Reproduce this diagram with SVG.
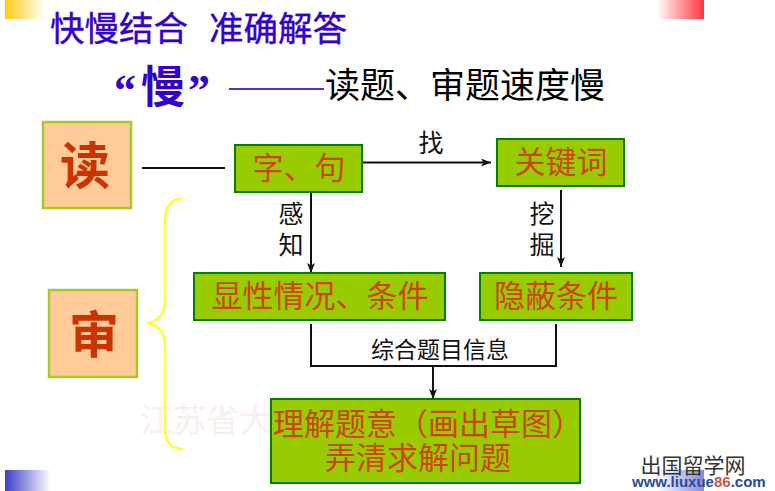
<svg xmlns="http://www.w3.org/2000/svg" width="775" height="491" viewBox="0 0 775 491">
<style>
text{font-family:"Liberation Serif","Noto Sans CJK SC",serif}
.c{text-anchor:middle}
.box{fill:#99cc00;stroke:#008000;stroke-width:2}
.bt{fill:#cc4400;font-size:31px;text-anchor:middle}
.sq{fill:#ffcc99;stroke:#a8c82c;stroke-width:2.5}
.sqt{fill:#cc3300;font-size:50px;font-weight:bold;text-anchor:middle}
.lab{fill:#111;font-size:25px;text-anchor:middle}
.ln{fill:none;stroke:#111;stroke-width:2}
.ttl{font-size:34.500px;fill:#3300cc;stroke:#3300cc;stroke-width:.4}
</style>
<defs>
<linearGradient id="gy"><stop offset="0" stop-color="#ffcc11"/><stop offset="1" stop-color="#ffffff"/></linearGradient>
<linearGradient id="gr"><stop offset="0" stop-color="#ffffff"/><stop offset="1" stop-color="#ff3344"/></linearGradient>
<linearGradient id="gb"><stop offset="0" stop-color="#3f3fc8"/><stop offset="1" stop-color="#ffffff"/></linearGradient>
<linearGradient id="gb2"><stop offset="0" stop-color="#ffffff"/><stop offset="1" stop-color="#8888dd"/></linearGradient>
<marker id="arr" viewBox="0 0 10 8" refX="10" refY="4" markerWidth="10" markerHeight="8" markerUnits="userSpaceOnUse" orient="auto"><path d="M0 0L10 4L0 8L2.5 4Z" fill="#111"/></marker>
</defs>
<rect width="775" height="491" fill="#fff"/>
<g id="decor">
<rect x="5" y="0" width="40" height="19" fill="url(#gy)"/>
<rect x="657" y="0" width="47" height="19" fill="url(#gr)"/>
<rect x="5" y="470" width="46" height="21" fill="url(#gb)"/>
<rect x="657" y="470" width="47" height="21" fill="url(#gb2)"/>
</g>
<text x="140" y="432" font-size="33" fill="#fdeeee">江苏省大</text>
<g id="title">
<text class="ttl" x="50" y="41">快慢结合</text>
<text class="ttl" x="209" y="41">准确解答</text>
</g>
<g id="subtitle">
<text x="114" y="105" font-size="44" font-weight="bold" fill="#3300cc">“</text>
<text x="141" y="103" font-size="44" font-weight="bold" fill="#3300cc">慢</text>
<text x="188" y="105" font-size="44" font-weight="bold" fill="#3300cc">”</text>
<line x1="229" y1="89" x2="324" y2="89" stroke="#5533cc" stroke-width="2"/>
<text x="325" y="98" font-size="35" fill="#000">读题、审题速度慢</text>
</g>
<g id="connectors">
<line class="ln" x1="142" y1="168" x2="225" y2="168"/>
<line class="ln" x1="362" y1="162.500" x2="491" y2="162.500" marker-end="url(#arr)"/>
<line class="ln" x1="311" y1="192" x2="311" y2="273" marker-end="url(#arr)"/>
<line class="ln" x1="561" y1="190" x2="561" y2="267" marker-end="url(#arr)"/>
<path class="ln" d="M311 324V366H556V324"/>
<line class="ln" x1="433" y1="366" x2="433" y2="399" marker-end="url(#arr)"/>
<path id="brace" d="M183 198C171 199 165 206 165 220V298C165 313 160 321 147 323C160 325 165 333 165 348V428C165 442 171 449 183 449" fill="none" stroke="#ffff33" stroke-width="2.500"/>
</g>
<g id="labels">
<text class="lab" x="291" y="223">感</text>
<text class="lab" x="291" y="254">知</text>
<text class="lab" x="431" y="152">找</text>
<text class="lab" x="542" y="223">挖</text>
<text class="lab" x="542" y="254">掘</text>
<text x="440" y="358" font-size="23" fill="#111" class="c">综合题目信息</text>
</g>
<g id="node-du"><rect class="sq" x="43" y="122" width="88" height="86"/><text class="sqt" x="85" y="184">读</text></g>
<g id="node-shen"><rect class="sq" x="49" y="290" width="88" height="87"/><text class="sqt" x="94" y="353">审</text></g>
<g id="node-zi"><rect class="box" x="235" y="145" width="127" height="47"/><text class="bt" x="299" y="179">字、句</text></g>
<g id="node-guanjian"><rect class="box" x="497" y="139" width="127" height="47"/><text class="bt" x="561" y="173">关键词</text></g>
<g id="node-xianxing"><rect class="box" x="194" y="273" width="251" height="47"/><text class="bt" x="320" y="307">显性情况、条件</text></g>
<g id="node-yinbi"><rect class="box" x="480" y="273" width="152" height="47"/><text class="bt" x="556" y="307">隐蔽条件</text></g>
<g id="node-lijie"><rect class="box" x="271" y="399" width="309" height="84"/>
<text x="273" y="435" font-size="31" fill="#cc4400">理解题意（画出草图）</text>
<text class="bt" x="418" y="469">弄清求解问题</text></g>
<g id="watermark">
<text x="693" y="473" font-size="21" fill="#333" class="c" style="font-family:'Noto Sans CJK SC',sans-serif">出国留学网</text>
<text x="632" y="487" font-size="15" font-weight="bold" fill="#2a4a9a" style="font-family:'Liberation Sans',sans-serif">www.liuxue<tspan fill="#cc5544">86</tspan>.com</text>
</g>
</svg>
